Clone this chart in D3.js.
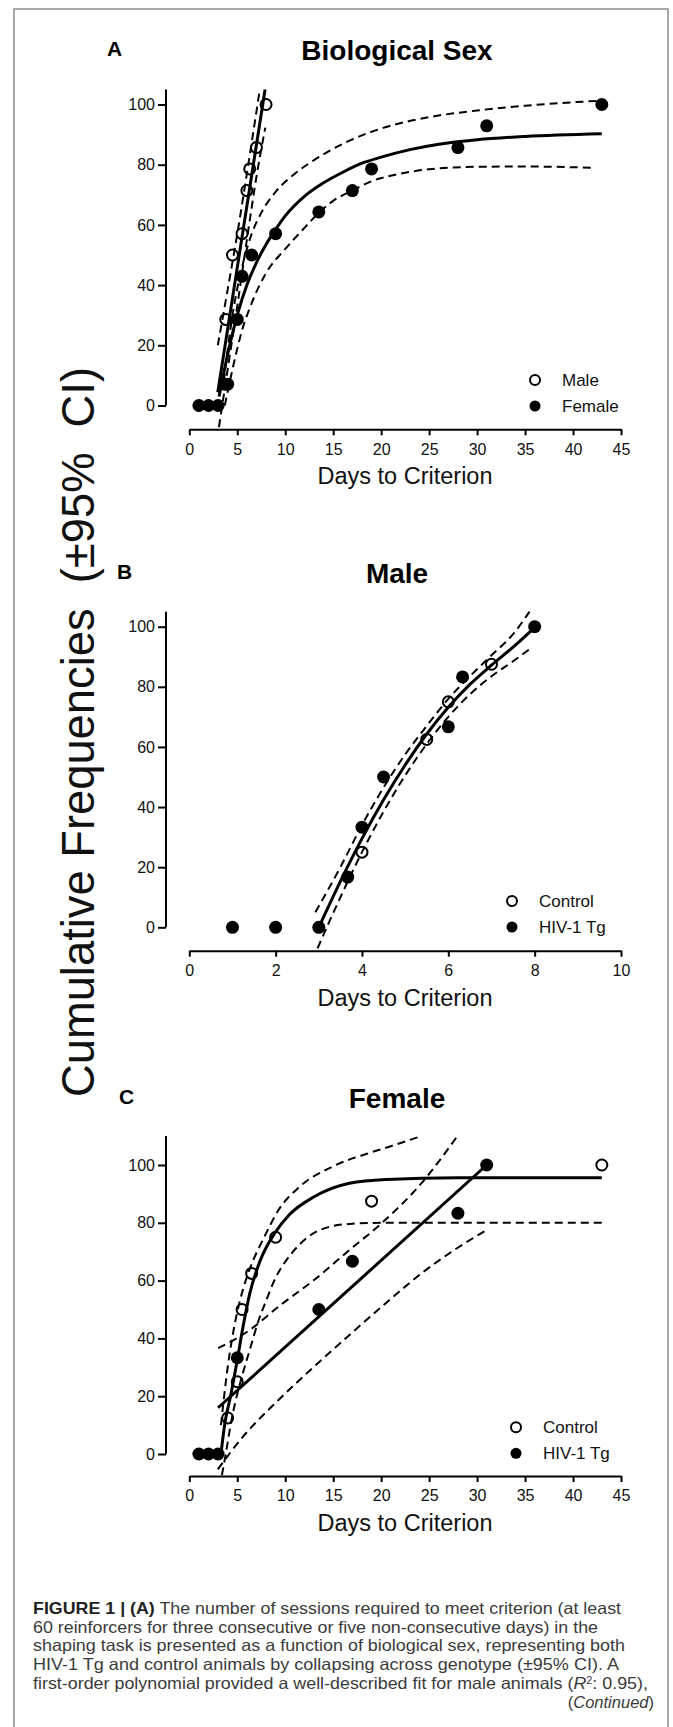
<!DOCTYPE html>
<html>
<head>
<meta charset="utf-8">
<script src="https://cdn.jsdelivr.net/npm/d3@7"></script>
<style>
  html, body { margin: 0; padding: 0; background: #fff; }
  svg { display: block; font-family: "Liberation Sans", Arial, Helvetica, sans-serif; }
</style>
</head>
<body>
<svg id="fig" width="673" height="1727"></svg>
<script>
// ---- panel A : biological sex (days, cumulative %) ----
const maleA = [[3.7, 7.1], [3.8, 28.6], [4.5, 50], [5.5, 57.1], [6, 71.4], [6.3, 78.6], [7, 85.7], [8, 100]];
const femaleA = [[1, 0], [2, 0], [3, 0], [4, 7.1], [5, 28.6], [5.5, 42.9], [6.5, 50], [9, 57.1],
  [13.5, 64.3], [17, 71.4], [19, 78.6], [28, 85.7], [31, 92.9], [43, 100]];
const maleFitA = [[2.97, 4.4], [7.9, 105]];
const maleUpperA = [[2.97, 20], [4, 38.5], [5, 57], [6, 77], [7.35, 105]];
const maleLowerA = [[3.09, -7.2], [4, 12], [5, 33], [6, 55], [7, 76], [7.92, 92.3]];
const femaleFitA = [[3.1, 3], [4, 17], [5, 30], [6, 40], [7, 47.5], [8, 53.5], [9, 58.5], [10, 63],
  [12, 69.5], [14, 74], [16, 77.5], [18, 80.5], [20, 82.5], [23, 85], [26, 86.8], [30, 88.3], [35, 89.4], [43, 90.3]];
const femaleUpperA = [[3.6, 8], [4.5, 30], [5.5, 46], [6.5, 57], [7.5, 64], [9, 71], [11, 77], [13, 81.5],
  [16.7, 88], [20.5, 92.5], [25, 95.8], [30, 98], [35, 99.6], [43, 101.3]];
const femaleLowerA = [[3.7, 0], [4.5, 12], [5.5, 25], [6.5, 34], [8, 44], [10, 52], [12, 59], [13.5, 64],
  [15, 68], [17, 71.4], [19, 74.5], [22, 77], [25, 78.5], [30, 79.3], [35, 79.4], [42, 79]];

// ---- panel B : male ----
const controlB = [[4, 25], [5.5, 62.5], [6, 75], [7, 87.5]];
const hivB = [[1, 0], [2, 0], [3, 0], [3.67, 16.7], [4, 33.3], [4.5, 50], [6, 66.7], [6.33, 83.3], [8, 100]];
const fitB = [[3, 0], [3.5, 15.3], [4, 29.5], [4.5, 42.4], [5, 54], [5.5, 64.3], [6, 73.2], [6.5, 80.8], [7, 87.2], [7.5, 93.2], [7.93, 98.8]];
const upperB = [[2.92, 5], [3.5, 20], [4, 34], [4.5, 46.5], [5, 57.5], [5.5, 67], [6, 76], [6.5, 83.5], [7, 90.5], [7.5, 97.5], [7.88, 105]];
const lowerB = [[2.97, -7], [3.5, 10], [4, 25], [4.5, 38.5], [5, 50.5], [5.5, 61], [6, 70], [6.5, 77.5], [7, 83.5], [7.5, 88.5], [7.88, 92.5]];

// ---- panel C : female ----
const controlC = [[4, 12.5], [5, 25], [5.5, 50], [6.5, 62.5], [9, 75], [19, 87.5], [43, 100]];
const hivC = [[1, 0], [2, 0], [3, 0], [5, 33.3], [13.5, 50], [17, 66.7], [28, 83.3], [31, 100]];
const controlFitC = [[3.3, 0], [3.7, 10.5], [4.3, 20], [5, 32.5], [5.6, 44], [6.3, 55.5], [7.4, 67], [8.9, 76.4],
  [10.4, 82.7], [13, 89], [16.7, 93.7], [20.5, 95], [28, 95.6], [43, 95.6]];
const controlUpperC = [[3.3, 10], [4, 30], [4.8, 46], [5.6, 57], [6.3, 64], [7.8, 75], [9.3, 84.4], [11.5, 92.5],
  [14.9, 99.4], [18.6, 104], [21, 106.5], [24, 109.8]];
const controlLowerC = [[3.4, -7.3], [3.8, 0], [4.3, 10], [4.8, 18], [5.5, 27], [6.3, 36], [7.2, 46], [8, 53], [9, 61],
  [10, 66.5], [11.5, 72.5], [13, 76.5], [14.5, 78.5], [16.7, 79.6], [20, 80], [43, 80]];
const hivFitC = [[3, 16], [31, 100]];
const hivUpperC = [[3, 36.6], [6.3, 42.9], [9.3, 51], [13, 60.2], [16.7, 70.6], [20.1, 80], [24.2, 93.7], [27.9, 109.8]];
const hivLowerC = [[2.97, -5.3], [5.6, 6], [9.3, 18.7], [13, 30.2], [16.7, 41.2], [20.45, 52.1], [24.2, 62.5], [27.9, 71.2], [31, 77.5]];

// ---- ticks & labels ----
const yTicks = [0, 20, 40, 60, 80, 100];
const xTicksWide = [0, 5, 10, 15, 20, 25, 30, 35, 40, 45];
const xTicksMale = [0, 2, 4, 6, 8, 10];
const panelTitles = ["Biological Sex", "Male", "Female"];
const panelLetters = ["A", "B", "C"];
const legendSex = ["Male", "Female"];
const legendGeno = ["Control", "HIV-1 Tg"];
const xTitle = "Days to Criterion";
const yTitle = "Cumulative Frequencies  (\u00b195%  CI)";

const svg = d3.select("#fig");
const narrow = "'Liberation Sans Narrow', 'Arial Narrow', 'Liberation Sans', Arial, sans-serif";

// outer frame
svg.append("path")
  .attr("d", "M14,1727 L14,9 L668,9 L668,1727")
  .attr("fill", "none")
  .attr("stroke", "#8c8c8c")
  .attr("stroke-width", 1.5);

const line = (x, y) => d3.line().x(d => x(d[0])).y(d => y(d[1])).curve(d3.curveMonotoneX);

function drawPanel(p) {
  const x = d3.scaleLinear().domain(p.xDomain).range([189.3, 621]);
  const y = d3.scaleLinear().domain([0, 100]).range([p.yZero, p.yZero - 100 * p.pxUnit]);
  const g = svg.append("g");

  // letter + title
  g.append("text").attr("x", p.letterX).attr("y", p.titleY - 4)
    .attr("font-size", 21).attr("font-weight", "bold").text(p.letter);
  g.append("text").attr("x", 397).attr("y", p.titleY)
    .attr("text-anchor", "middle").attr("font-size", 28).attr("font-weight", "bold").text(p.title);

  // y axis (0..top)
  const ya = g.append("g").attr("transform", "translate(166,0)")
    .call(d3.axisLeft(y).tickValues(yTicks).tickSize(8).tickPadding(3));
  ya.select(".domain").attr("d", `M0,${y(0)}V${y(p.yTop)}`);
  // x axis, offset below
  const xa = g.append("g").attr("transform", `translate(0,${p.xAxisY})`)
    .call(d3.axisBottom(x).tickValues(p.xTicks).tickSize(6).tickPadding(8).tickSizeOuter(0));
  [ya, xa].forEach(a => {
    a.select(".domain").attr("stroke", "#000").attr("stroke-width", 2);
    a.selectAll(".tick line").attr("stroke", "#000").attr("stroke-width", 2);
    a.selectAll(".tick text").attr("font-size", 16).attr("fill", "#111")
      .attr("font-family", "'Liberation Sans', Arial, sans-serif");
  });
  g.append("text").attr("x", 405).attr("y", p.xAxisY + 55)
    .attr("text-anchor", "middle").attr("font-size", 23.5).attr("fill", "#111").text(xTitle);

  // fitted curves and 95% bands
  p.curves.forEach(c => {
    g.append("path").datum(c.data)
      .attr("d", line(x, y))
      .attr("fill", "none").attr("stroke", "#000")
      .attr("stroke-width", c.dashed ? 2 : 3)
      .attr("stroke-dasharray", c.dashed ? "8,5" : null);
  });

  // points
  g.append("g").selectAll("circle").data(p.open).join("circle")
    .attr("cx", d => x(d[0])).attr("cy", d => y(d[1])).attr("r", 5.5)
    .attr("fill", "none").attr("stroke", "#000").attr("stroke-width", 2);
  g.append("g").selectAll("circle").data(p.filled).join("circle")
    .attr("cx", d => x(d[0])).attr("cy", d => y(d[1])).attr("r", 6.5)
    .attr("fill", "#000");

  // legend
  p.legend.forEach((name, i) => {
    const ly = p.legendY + i * 26;
    g.append("circle").attr("cx", p.legendX).attr("cy", ly).attr("r", i === 0 ? 5 : 5.5)
      .attr("fill", i === 0 ? "#fff" : "#000").attr("stroke", "#000").attr("stroke-width", i === 0 ? 2 : 0);
    g.append("text").attr("x", p.legendX + 27).attr("y", ly + 6)
      .attr("font-size", 17).attr("fill", "#111").text(name);
  });
}

drawPanel({
  letter: panelLetters[0], title: panelTitles[0], letterX: 107, titleY: 59.5,
  xDomain: [0, 45], xTicks: xTicksWide, yZero: 405.5, pxUnit: 3.01, yTop: 105, xAxisY: 429.3,
  open: maleA, filled: femaleA, legend: legendSex, legendX: 535, legendY: 380,
  curves: [
    { data: maleUpperA, dashed: true }, { data: maleLowerA, dashed: true },
    { data: femaleUpperA, dashed: true }, { data: femaleLowerA, dashed: true },
    { data: maleFitA }, { data: femaleFitA }
  ]
});

drawPanel({
  letter: panelLetters[1], title: panelTitles[1], letterX: 117, titleY: 582.5,
  xDomain: [0, 10], xTicks: xTicksMale, yZero: 927.3, pxUnit: 3.006, yTop: 105, xAxisY: 950.7,
  open: controlB, filled: hivB, legend: legendGeno, legendX: 512, legendY: 901,
  curves: [{ data: upperB, dashed: true }, { data: lowerB, dashed: true }, { data: fitB }]
});

drawPanel({
  letter: panelLetters[2], title: panelTitles[2], letterX: 119, titleY: 1107.5,
  xDomain: [0, 45], xTicks: xTicksWide, yZero: 1454, pxUnit: 2.89, yTop: 110, xAxisY: 1476,
  open: controlC, filled: hivC, legend: legendGeno, legendX: 516, legendY: 1427.3,
  curves: [
    { data: controlUpperC, dashed: true }, { data: controlLowerC, dashed: true },
    { data: hivUpperC, dashed: true }, { data: hivLowerC, dashed: true },
    { data: controlFitC }, { data: hivFitC }
  ]
});

// shared y title
svg.append("text")
  .attr("transform", "translate(94,732) rotate(-90)")
  .attr("text-anchor", "middle")
  .attr("font-size", 46)
  .attr("font-family", narrow)
  .attr("fill", "#111")
  .attr("textLength", 730)
  .attr("lengthAdjust", "spacingAndGlyphs")
  .style("white-space", "pre")
  .text(yTitle);

// caption
const caption = [
  { w: 588, parts: [["FIGURE 1 | (A)", "b"], [" The number of sessions required to meet criterion (at least", ""]] },
  { w: 565, parts: [["60 reinforcers for three consecutive or five non-consecutive days) in the", ""]] },
  { w: 592, parts: [["shaping task is presented as a function of biological sex, representing both", ""]] },
  { w: 586, parts: [["HIV-1 Tg and control animals by collapsing across genotype (\u00b195% CI). A", ""]] },
  { w: 615, parts: [["first-order polynomial provided a well-described fit for male animals (", ""], ["R", "i"], ["2", "sup"], [": 0.95),", ""]] }
];
caption.forEach((ln, i) => {
  const t = svg.append("text").attr("x", 33).attr("y", 1614 + i * 18.7)
    .attr("font-size", 16.5).attr("fill", "#3a3a3a").attr("font-family", narrow)
    .attr("textLength", ln.w).attr("lengthAdjust", "spacingAndGlyphs");
  ln.parts.forEach(([s, k]) => {
    const ts = t.append("tspan").text(s);
    if (k === "b") ts.attr("font-weight", "bold").attr("fill", "#222");
    if (k === "i") ts.attr("font-style", "italic");
    if (k === "sup") ts.attr("font-size", 10).attr("baseline-shift", "super");
  });
});
const cont = svg.append("text").attr("x", 654).attr("y", 1614 + 5 * 18.7).attr("text-anchor", "end")
  .attr("font-size", 16.5).attr("fill", "#3a3a3a").attr("font-family", narrow);
cont.append("tspan").text("(");
cont.append("tspan").attr("font-style", "italic").text("Continued");
cont.append("tspan").text(")");
</script>
</body>
</html>
